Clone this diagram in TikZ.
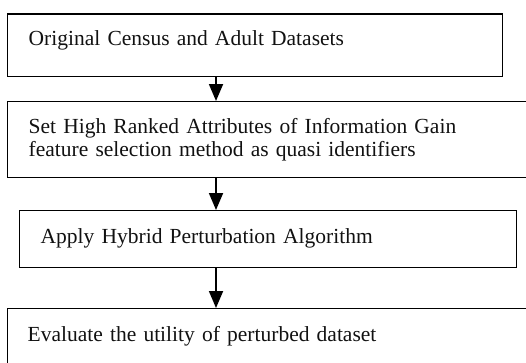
\documentclass[tikz,border=0pt]{standalone}
\usepackage{fontspec}
\setmainfont{Liberation Serif}
\usepackage{tikz}
\usetikzlibrary{arrows.meta,positioning}
\definecolor{FlowLine}{HTML}{000000}
\definecolor{FlowText}{HTML}{111111}

\begin{document}
\begin{tikzpicture}[x=1pt,y=-1pt,
  stepbox/.style={draw=FlowLine,line width=1.4pt,anchor=north west,inner ysep=0pt,
        inner xsep=21pt,text=FlowText,font=\fontsize{21.5}{22.8}\selectfont,align=left},
  flow/.style={draw=FlowLine,line width=1.8pt,-{Triangle[width=14pt,length=17pt]}}]
  \clip (0,0) rectangle (526,362);
  \coordinate (ax) at (216,0);
  \node[stepbox,text width=453pt,text height=31pt,text depth=31.7pt] (orig) at (7,13.3)
    {Original Census and Adult Datasets};
  \node[stepbox,text width=490pt,minimum height=76pt] (quasi) at (7,101)
    {Set High Ranked Attributes of Information Gain\\
     feature selection method as quasi identifiers};
  \node[stepbox,text width=455pt,text height=33pt,text depth=23.5pt] (hybrid) at (19,210)
    {Apply Hybrid Perturbation Algorithm};
  \node[stepbox,inner xsep=20pt,text width=500pt,text height=33pt,text depth=30pt] (util) at (7,308)
    {Evaluate the utility of perturbed dataset};
  \draw[flow] (orig.south -| ax) -- (quasi.north -| ax);
  \draw[flow] (quasi.south -| ax) -- (hybrid.north -| ax);
  \draw[flow] (hybrid.south -| ax) -- (util.north -| ax);
\end{tikzpicture}
\end{document}
